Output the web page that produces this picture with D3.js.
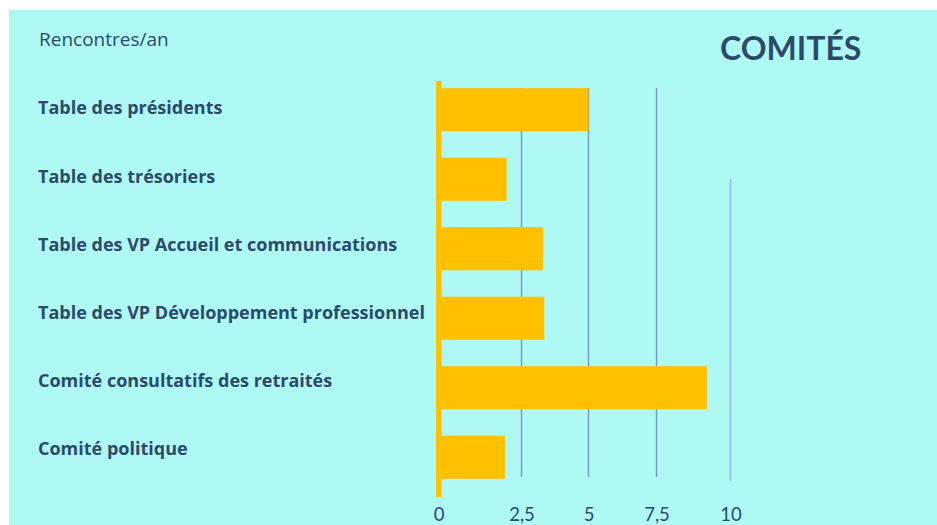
<!DOCTYPE html>
<html>
<head>
	<meta charset="utf-8">
	<title>Comités</title>
	<style type="text/css">
		body {
			margin: 0;
			background: white;
		}
		svg text {
			font-family: "Open Sans", Lato, sans-serif;
			fill: #2c4a69;
		}
	</style>
</head>
<body>
<svg id="chart"></svg>

<script type="text/javascript" src="https://cdnjs.cloudflare.com/ajax/libs/d3/7.8.5/d3.min.js"></script>
<script type="text/javascript">
	// rencontres par an, un comité par barre
	var categories = [
		"Table des présidents",
		"Table des trésoriers",
		"Table des VP Accueil et communications",
		"Table des VP Développement professionnel",
		"Comité consultatifs des retraités",
		"Comité politique"
	];
	var meetings = [5, 2.05, 3.3, 3.35, 9.2, 2];
	var tickValues = [0, 2.5, 5, 7.5, 10];
	var tickLabels = ["0", "2,5", "5", "7,5", "10"];

	var width = 937,
		height = 525;

	var svg = d3.select("#chart")
		.attr("width", width)
		.attr("height", height)

	svg.append("rect")
		.attr("x", 9)
		.attr("y", 10)
		.attr("width", width - 9)
		.attr("height", height - 10)
		.attr("fill", "#aff9f5")

	// the original axis is drawn by hand, spacing is not even
	var x = d3.scaleLinear()
		.domain(tickValues)
		.range([438.5, 521.5, 588.5, 656.5, 730.5])

	var y = d3.scaleBand()
		.domain(categories)
		.range([75, 492])
		.paddingInner(0.38)
		.paddingOuter(0.19)

	var yLabel = d3.scalePoint()
		.domain(categories)
		.range([108, 449])

	// gridlines
	svg.append("g")
		.selectAll("line")
		.data(tickValues.slice(1))
		.enter().append("line")
			.attr("x1", d => x(d))
			.attr("x2", d => x(d))
			.attr("y1", d => d === 10 ? y(categories[1]) + y.bandwidth() / 2 : 88)
			.attr("y2", d => d === 10 ? 481 : 477)
			.attr("stroke", d => d === 10 ? "#8bbcd8" : "#7199c6")
			.attr("stroke-width", 1.4)

	svg.append("g")
		.selectAll("rect")
		.data(meetings)
		.enter().append("rect")
			.attr("x", x(0))
			.attr("y", (d, i) => y(categories[i]))
			.attr("width", d => x(d) - x(0))
			.attr("height", y.bandwidth())
			.attr("fill", "#ffc000")

	// zero line
	svg.append("rect")
		.attr("x", x(0) - 2.5)
		.attr("y", 81)
		.attr("width", 5.5)
		.attr("height", 416)
		.attr("fill", "#ffc000")

	svg.append("g")
		.selectAll("text")
		.data(categories)
		.enter().append("text")
			.attr("x", 38)
			.attr("y", d => yLabel(d))
			.attr("dy", "0.36em")
			.style("font-size", "18px")
			.style("font-weight", "bold")
			.text(d => d)

	var axis = svg.append("g")
		.attr("transform", "translate(0,505)")
		.call(d3.axisBottom(x)
			.tickValues(tickValues)
			.tickFormat((d, i) => tickLabels[i])
			.tickSize(0))

	axis.select(".domain").remove()
	axis.selectAll("text")
		.style("font-size", "18.5px")
		.style("font-family", "Lato, sans-serif")
		.attr("fill", "#2c4a69")

	svg.append("text")
		.attr("x", 39)
		.attr("y", 46)
		.style("font-size", "19px")
		.text("Rencontres/an")

	svg.append("text")
		.attr("x", 720)
		.attr("y", 60)
		.style("font-family", "Lato, sans-serif")
		.style("font-size", "32px")
		.style("font-weight", "bold")
		.text("COMITÉS")
</script>
</body>
</html>
